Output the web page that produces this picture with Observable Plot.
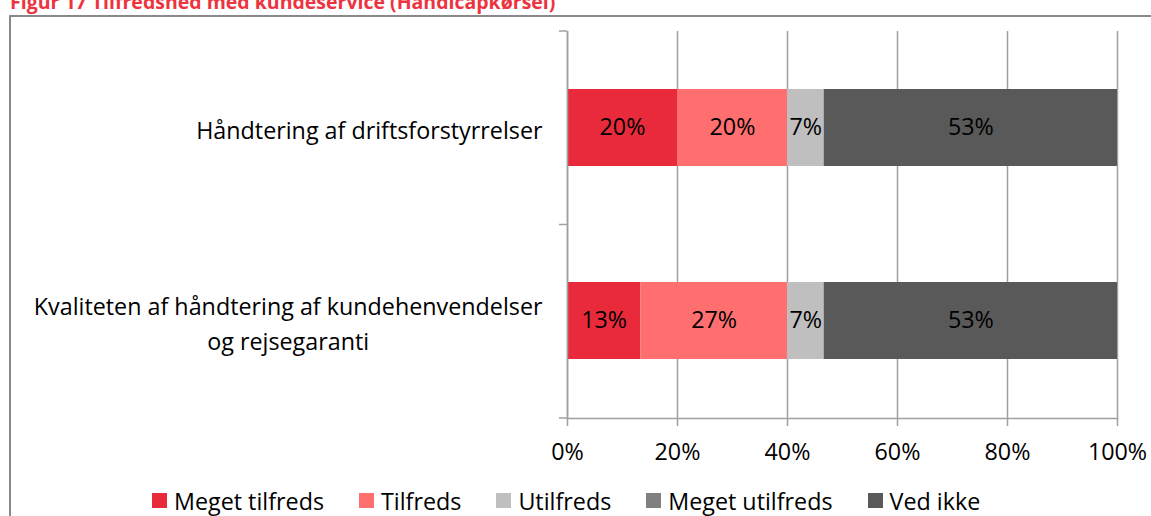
<!DOCTYPE html>
<html>
<head>
<meta charset="utf-8">
<script src="https://cdn.jsdelivr.net/npm/d3@7"></script>
<script src="https://cdn.jsdelivr.net/npm/@observablehq/plot@0.6"></script>
<style>
  html, body { margin: 0; padding: 0; background: #fff; overflow: hidden; }
  #wrap { position: relative; width: 1151px; height: 516px; overflow: hidden; }
  #title { position: absolute; left: 10px; top: -8px; font: bold 19.5px "Open Sans", sans-serif; line-height: 19.5px; color: #EE3340; white-space: nowrap; }
  #frame { position: absolute; left: 9px; top: 15px; width: 1300px; height: 700px; border: 2px solid #898989; box-sizing: border-box; }
  #chart { position: absolute; left: 0; top: 0; }
  #legend { position: absolute; left: 152px; top: 484px; }
  .lg-swatches-wrap .lg-swatch { margin-right: 35px !important; }
  .lg-swatch > svg { margin-right: 7px !important; }
</style>
</head>
<body>
<div id="wrap">
  <div id="frame"></div>
  <div id="title">Figur 17 Tilfredshed med kundeservice (Handicapkørsel)</div>
  <div id="chart"></div>
  <div id="legend"></div>
</div>
<script>
const categories = ["Håndtering af driftsforstyrrelser", "Kvaliteten af håndtering af kundehenvendelser og rejsegaranti"];
const categoryLines = [["Håndtering af driftsforstyrrelser"], ["Kvaliteten af håndtering af kundehenvendelser", "og rejsegaranti"]];
const series = ["Meget tilfreds", "Tilfreds", "Utilfreds", "Meget utilfreds", "Ved ikke"];
const colors = ["#E92A3B", "#FF6F6F", "#BFBFBF", "#808080", "#595959"];
const valuesDrift = [20, 20, 6.67, 0, 53.33];
const valuesKvalitet = [13.33, 26.67, 6.67, 0, 53.33];
const xTicks = [0, 20, 40, 60, 80, 100];

const seriesValues = [valuesDrift, valuesKvalitet];
const data = [];
categories.forEach((cat, i) => series.forEach((s, j) => data.push({cat, series: s, value: seriesValues[i][j]})));

const FONT = "Open Sans";
const FS = 23.3;
const ctx = document.createElement("canvas").getContext("2d");
ctx.font = `${FS}px "${FONT}"`;
const labelGap = 25;

function boundaryTicks(index, scales, values, dims) {
  const g = d3.create("svg:g").attr("stroke", "#a0a0a0").attr("stroke-width", 1.5);
  const top = dims.marginTop, bottom = dims.height - dims.marginBottom, n = categories.length;
  for (let i = 0; i <= n; i++) {
    const y = top + i * (bottom - top) / n;
    g.append("line").attr("x1", dims.marginLeft - 8).attr("x2", dims.marginLeft).attr("y1", y).attr("y2", y);
  }
  return g.node();
}

const labelMarks = categories.map((cat, i) => {
  const lines = categoryLines[i];
  const w = Math.max(...lines.map(l => ctx.measureText(l).width));
  return Plot.text([cat], {
    y: d => d, frameAnchor: "left", text: () => lines.join("\n"),
    textAnchor: "middle", lineAnchor: "middle", lineHeight: 1.5,
    dx: -(labelGap + w / 2), fill: "black"
  });
});

const chart = Plot.plot({
  width: 1151, height: 470,
  marginLeft: 567, marginRight: 34, marginTop: 31, marginBottom: 52,
  style: {fontFamily: FONT, fontSize: FS + "px", background: "transparent", color: "black"},
  x: {domain: [0, 100], ticks: xTicks},
  y: {domain: categories, paddingInner: 0.6, paddingOuter: 0.3, axis: null},
  color: {domain: series, range: colors},
  marks: [
    Plot.gridX(xTicks, {stroke: "#a0a0a0", strokeOpacity: 1, strokeWidth: 1.5}),
    Plot.barX(data, Plot.stackX({x: "value", y: "cat", fill: "series"})),
    Plot.text(data.filter(d => d.value > 0), Plot.stackX({x: "value", y: "cat", z: "series", text: d => Math.round(d.value) + "%", fill: "black"})),
    Plot.ruleX([0], {stroke: "#a0a0a0", strokeWidth: 1.5}),
    Plot.frame({anchor: "bottom", stroke: "#a0a0a0", strokeWidth: 1.5}),
    boundaryTicks,
    Plot.axisX(xTicks, {tickSize: 8, tickPadding: 17, tickFormat: d => d + "%", stroke: "#a0a0a0", strokeWidth: 1.5, fill: "black", label: null}),
    ...labelMarks
  ]
});
document.getElementById("chart").append(chart);

const legend = Plot.legend({
  color: {domain: series, range: colors},
  legend: "swatches", swatchSize: 15, className: "lg",
  style: {fontFamily: FONT, fontSize: FS + "px", color: "black"}
});
document.getElementById("legend").append(legend);
</script>
</body>
</html>
